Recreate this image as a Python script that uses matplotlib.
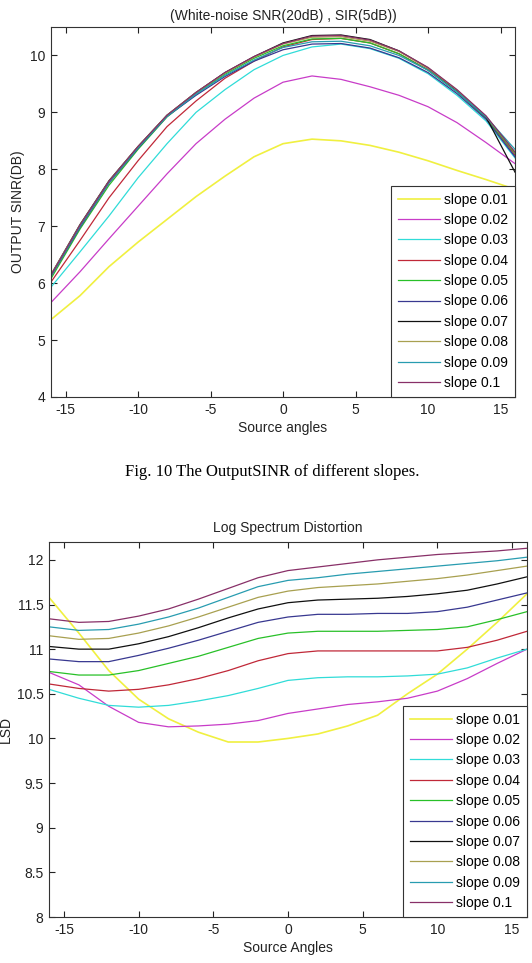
import matplotlib.pyplot as plt

plt.rcParams['font.family'] = ['Liberation Sans', 'DejaVu Sans']
plt.rcParams['font.size'] = 10
plt.rcParams['axes.unicode_minus'] = False

labels = ['slope 0.01', 'slope 0.02', 'slope 0.03', 'slope 0.04', 'slope 0.05',
          'slope 0.06', 'slope 0.07', 'slope 0.08', 'slope 0.09', 'slope 0.1']
colors = ['#f0f040', '#c83cc8', '#30dcd8', '#c02838', '#28c028',
          '#383890', '#101010', '#a8a050', '#289cb0', '#883068']

angles = [-16, -14, -12, -10, -8, -6, -4, -2, 0, 2, 4, 6, 8, 10, 12, 14, 16]

# output SINR (dB) per slope
sinr_001 = [5.36, 5.78, 6.29, 6.72, 7.12, 7.52, 7.88, 8.22, 8.45, 8.53, 8.50, 8.42, 8.30, 8.15, 7.98, 7.82, 7.65]
sinr_002 = [5.66, 6.20, 6.78, 7.35, 7.92, 8.45, 8.88, 9.25, 9.53, 9.64, 9.58, 9.45, 9.30, 9.10, 8.82, 8.47, 8.10]
sinr_003 = [5.93, 6.55, 7.18, 7.85, 8.45, 9.00, 9.40, 9.75, 10.00, 10.15, 10.20, 10.12, 9.95, 9.68, 9.30, 8.85, 8.20]
sinr_004 = [6.02, 6.75, 7.50, 8.15, 8.75, 9.20, 9.60, 9.90, 10.15, 10.28, 10.30, 10.22, 10.03, 9.75, 9.37, 8.90, 8.25]
sinr_005 = [6.08, 6.95, 7.72, 8.35, 8.92, 9.32, 9.67, 9.95, 10.17, 10.29, 10.30, 10.22, 10.03, 9.74, 9.36, 8.90, 8.28]
sinr_006 = [6.12, 6.98, 7.76, 8.37, 8.93, 9.30, 9.63, 9.90, 10.10, 10.20, 10.21, 10.13, 9.96, 9.70, 9.33, 8.88, 8.22]
sinr_007 = [6.15, 7.03, 7.80, 8.40, 8.95, 9.35, 9.70, 9.98, 10.22, 10.35, 10.36, 10.28, 10.08, 9.78, 9.38, 8.92, 7.95]
sinr_008 = [6.15, 7.02, 7.79, 8.40, 8.95, 9.35, 9.69, 9.97, 10.20, 10.32, 10.33, 10.25, 10.07, 9.78, 9.39, 8.93, 8.30]
sinr_009 = [6.13, 7.00, 7.77, 8.38, 8.93, 9.32, 9.65, 9.92, 10.14, 10.24, 10.25, 10.17, 10.00, 9.74, 9.36, 8.92, 8.35]
sinr_01 = [6.14, 7.02, 7.79, 8.40, 8.95, 9.35, 9.70, 9.98, 10.21, 10.34, 10.35, 10.27, 10.08, 9.79, 9.40, 8.94, 8.30]

# log spectrum distortion per slope
lsd_001 = [11.58, 11.18, 10.76, 10.44, 10.22, 10.07, 9.96, 9.96, 10.00, 10.05, 10.14, 10.26, 10.50, 10.72, 11.00, 11.30, 11.62]
lsd_002 = [10.74, 10.60, 10.36, 10.18, 10.13, 10.14, 10.16, 10.20, 10.28, 10.33, 10.38, 10.41, 10.45, 10.53, 10.67, 10.84, 11.00]
lsd_003 = [10.55, 10.45, 10.37, 10.35, 10.37, 10.42, 10.48, 10.56, 10.65, 10.68, 10.69, 10.69, 10.70, 10.72, 10.79, 10.90, 11.00]
lsd_004 = [10.61, 10.56, 10.53, 10.55, 10.60, 10.67, 10.76, 10.87, 10.95, 10.98, 10.98, 10.98, 10.98, 10.98, 11.02, 11.10, 11.20]
lsd_005 = [10.75, 10.71, 10.71, 10.76, 10.84, 10.92, 11.02, 11.12, 11.18, 11.20, 11.20, 11.20, 11.21, 11.22, 11.25, 11.33, 11.42]
lsd_006 = [10.89, 10.86, 10.86, 10.93, 11.01, 11.10, 11.20, 11.30, 11.36, 11.39, 11.39, 11.40, 11.40, 11.42, 11.47, 11.55, 11.63]
lsd_007 = [11.03, 11.00, 11.00, 11.06, 11.14, 11.24, 11.35, 11.45, 11.52, 11.55, 11.56, 11.57, 11.59, 11.62, 11.66, 11.73, 11.81]
lsd_008 = [11.15, 11.11, 11.12, 11.18, 11.26, 11.36, 11.47, 11.58, 11.65, 11.69, 11.71, 11.73, 11.76, 11.79, 11.83, 11.88, 11.93]
lsd_009 = [11.25, 11.21, 11.22, 11.28, 11.36, 11.46, 11.58, 11.70, 11.77, 11.80, 11.84, 11.87, 11.90, 11.93, 11.96, 11.99, 12.03]
lsd_01 = [11.34, 11.30, 11.31, 11.37, 11.45, 11.56, 11.68, 11.80, 11.88, 11.92, 11.96, 12.00, 12.03, 12.06, 12.08, 12.10, 12.13]

sinr_all = [sinr_001, sinr_002, sinr_003, sinr_004, sinr_005,
            sinr_006, sinr_007, sinr_008, sinr_009, sinr_01]
lsd_all = [lsd_001, lsd_002, lsd_003, lsd_004, lsd_005,
           lsd_006, lsd_007, lsd_008, lsd_009, lsd_01]


def style_axes(ax):
    ax.set_xlim(-16, 16)
    ax.set_xticks([-15, -10, -5, 0, 5, 10, 15])
    ax.tick_params(direction='in', top=True, right=True, length=4, width=0.8,
                   pad=4, labelsize=10, colors='#222222')
    for s in ax.spines.values():
        s.set_color('#333333')
        s.set_linewidth(0.8)


def add_legend(ax):
    leg = ax.legend(loc='lower right', bbox_to_anchor=(1, 0), borderaxespad=0,
                    fancybox=False, edgecolor='#333333', framealpha=1,
                    handlelength=3.0, handletextpad=0.3, labelspacing=0.46,
                    borderpad=0.5, fontsize=10)
    leg.get_frame().set_linewidth(0.8)


fig = plt.figure(figsize=(5.32, 9.63), dpi=100)

ax1 = fig.add_axes([51 / 532, 1 - 397 / 963, 464 / 532, 370 / 963])
for vals, c, lab in zip(sinr_all, colors, labels):
    ax1.plot(angles, vals, color=c, lw=1.2 if c == '#f0f040' else 0.9, label=lab)
ax1.set_ylim(4, 10.5)
ax1.set_yticks([4, 5, 6, 7, 8, 9, 10])
style_axes(ax1)
ax1.set_title('(White-noise SNR(20dB) , SIR(5dB))', fontsize=10, pad=5, color='#222222')
ax1.set_xlabel('Source angles', fontsize=10, labelpad=3, color='#222222')
ax1.set_ylabel('OUTPUT SINR(DB)', fontsize=10, labelpad=4, color='#222222')
add_legend(ax1)

fig.text(272 / 532, 1 - 472 / 963, 'Fig. 10 The OutputSINR of different slopes.',
         family=['Liberation Serif', 'DejaVu Serif'], fontsize=12,
         ha='center', va='center')

ax2 = fig.add_axes([49 / 532, 1 - 917 / 963, 478 / 532, 375 / 963])
for vals, c, lab in zip(lsd_all, colors, labels):
    ax2.plot(angles, vals, color=c, lw=1.2 if c == '#f0f040' else 0.9, label=lab)
ax2.set_ylim(8, 12.2)
ax2.set_yticks([8, 8.5, 9, 9.5, 10, 10.5, 11, 11.5, 12])
ax2.set_yticklabels(['8', '8.5', '9', '9.5', '10', '10.5', '11', '11.5', '12'])
style_axes(ax2)
ax2.set_title('Log Spectrum Distortion', fontsize=10, pad=7, color='#222222')
ax2.set_xlabel('Source Angles', fontsize=10, labelpad=3, color='#222222')
ax2.set_ylabel('LSD', fontsize=10, color='#222222')
ax2.yaxis.set_label_coords(-0.075, 0.5)
add_legend(ax2)

fig.savefig('out.png', dpi=100)
